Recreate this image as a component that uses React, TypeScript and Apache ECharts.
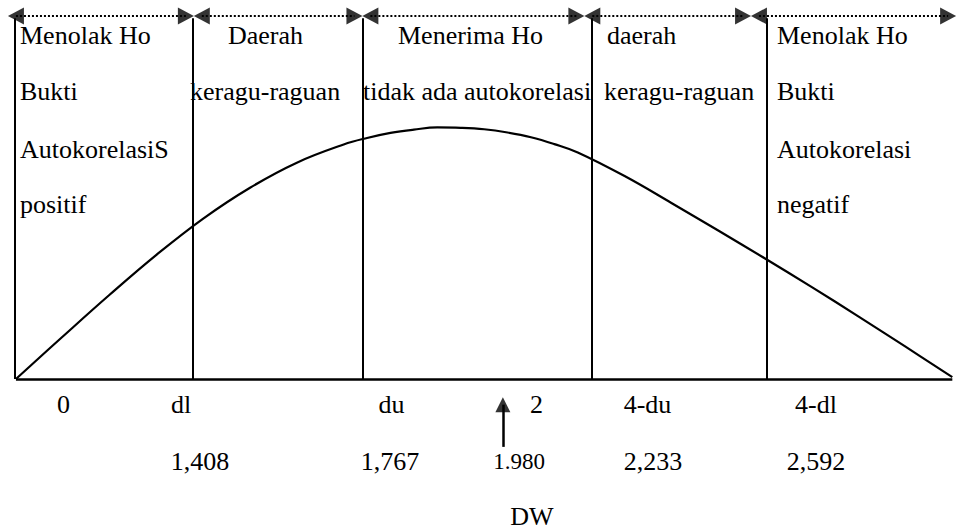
import React, { useEffect, useRef } from 'react';
import * as echarts from 'echarts';

// Schematic Durbin-Watson diagram, horizontal/vertical units are schematic (0..100)
const curveX = [0, 5, 10, 15, 20, 25, 30, 35, 37.5, 40, 42.5, 45, 47.5, 50, 52.5, 55, 57.5, 60, 65, 70, 75, 80, 85, 90, 95, 100];
const curveY = [0, 11.7, 23.2, 34.2, 44.2, 52.7, 59.6, 64.6, 66.4, 67.8, 68.7, 69.3, 69.2, 68.8, 67.9, 66.6, 64.7, 62.4, 55.9, 48.5, 40.9, 33.2, 25.3, 17.2, 8.9, 0.5];
const boundaryX = [-0.15, 18.9, 37.0, 61.5, 80.2];
const boundaryTop = 99.4;
const arrowStops = [-0.85, 19.0, 37.0, 60.7, 78.5, 100.4];
const arrowLevel = 100;
const dwMarkerX = 52.0;
const dwMarkerFrom = -18.7;
const dwMarkerTip = -5.0;

const regionTexts = [
  ['Menolak Ho', 'Bukti', 'AutokorelasiS', 'positif'],
  ['Daerah', 'keragu-raguan'],
  ['Menerima Ho', 'tidak ada autokorelasi'],
  ['daerah', 'keragu-raguan'],
  ['Menolak Ho', 'Bukti', 'Autokorelasi', 'negatif'],
];
const boundaryNames = ['0', 'dl', 'du', '2', '4-du', '4-dl'];
const boundaryValues = ['1,408', '1,767', '1.980', '2,233', '2,592'];
const axisTitle = 'DW';

// layout (pixels)
const regionLeft = [[20, 20, 20, 20], [228, 190], [398, 363], [607, 604], [777, 777, 777, 777]];
const rowY = [35, 91, 149, 204];
const nameCx = [63.5, 181, 391.5, 536.5, 647.5, 816];
const valueCx = [200, 390, 519, 653, 816];
const valueSize = [26, 26, 23, 26, 26];

const FONT = '"Liberation Serif", "Times New Roman", Times, serif';
const UNIT_X = 9.41;
const UNIT_Y = 3.63;
const HEAD_LEN = 16;
const HEAD_W = 17;

export default function App() {
  const ref = useRef<HTMLDivElement>(null);
  useEffect(() => {
    if (!ref.current) return;
    const chart = echarts.init(ref.current, undefined, { renderer: 'svg' });
    const half = HEAD_LEN / 2 / UNIT_X;
    const dotted: any[] = [];
    const heads: any[] = [];
    for (let i = 0; i < arrowStops.length - 1; i++) {
      dotted.push([
        { coord: [arrowStops[i] + half, arrowLevel] },
        { coord: [arrowStops[i + 1] - half, arrowLevel] },
      ]);
      heads.push({ value: [arrowStops[i] + half, arrowLevel], symbolRotate: 90 });
      heads.push({ value: [arrowStops[i + 1] - half, arrowLevel], symbolRotate: -90 });
    }
    const dwHeadY = dwMarkerTip - 15 / 2 / UNIT_Y;
    heads.push({ value: [dwMarkerX, dwHeadY], symbolRotate: 0, symbolSize: [15, 15] });

    const solid: any[] = boundaryX.map((x) => [
      { coord: [x, 0] },
      { coord: [x, boundaryTop] },
    ]);
    solid.push([
      { coord: [0, 0], lineStyle: { width: 2.6 } },
      { coord: [100, 0] },
    ]);
    solid.push([
      { coord: [dwMarkerX, dwMarkerFrom], lineStyle: { width: 2.5 } },
      { coord: [dwMarkerX, dwHeadY] },
    ]);

    const graphic: any[] = [];
    regionTexts.forEach((lines, c) => {
      lines.forEach((t, r) => {
        graphic.push({
          type: 'text',
          silent: true,
          style: { x: regionLeft[c][r], y: rowY[r], text: t, font: `26px ${FONT}`, fill: '#000', align: 'left', verticalAlign: 'middle' },
        });
      });
    });
    boundaryNames.forEach((t, i) => {
      graphic.push({
        type: 'text',
        silent: true,
        style: { x: nameCx[i], y: 404, text: t, font: `26px ${FONT}`, fill: '#000', align: 'center', verticalAlign: 'middle' },
      });
    });
    boundaryValues.forEach((t, i) => {
      graphic.push({
        type: 'text',
        silent: true,
        style: { x: valueCx[i], y: 461, text: t, font: `${valueSize[i]}px ${FONT}`, fill: '#000', align: 'center', verticalAlign: 'middle' },
      });
    });
    graphic.push({
      type: 'text',
      silent: true,
      style: { x: 532, y: 516, text: axisTitle, font: `26px ${FONT}`, fill: '#000', align: 'center', verticalAlign: 'middle' },
    });

    chart.setOption({
      animation: false,
      backgroundColor: '#fff',
      grid: { left: 16 - UNIT_X, top: 16, width: UNIT_X * 101.5, height: UNIT_Y * 141 },
      xAxis: { type: 'value', min: -1, max: 100.5, show: false, splitLine: { show: false } },
      yAxis: { type: 'value', min: -41, max: 100, show: false, splitLine: { show: false } },
      graphic,
      series: [
        {
          type: 'line',
          data: curveX.map((x, i) => [x, curveY[i]]),
          smooth: 0.4,
          showSymbol: false,
          symbol: 'none',
          clip: false,
          lineStyle: { color: '#000', width: 2.2 },
          silent: true,
        },
        {
          type: 'line',
          data: [],
          silent: true,
          clip: false,
          markLine: {
            silent: true,
            animation: false,
            symbol: ['none', 'none'],
            label: { show: false },
            lineStyle: { color: '#000', width: 2, type: 'solid' },
            emphasis: { disabled: true },
            data: solid,
          },
        },
        {
          type: 'line',
          data: [],
          silent: true,
          clip: false,
          markLine: {
            silent: true,
            animation: false,
            symbol: ['none', 'none'],
            label: { show: false },
            lineStyle: { color: '#000', width: 2, type: [2, 2] },
            emphasis: { disabled: true },
            data: dotted,
          },
        },
        {
          type: 'scatter',
          data: heads,
          symbol: 'triangle',
          symbolSize: [HEAD_W, HEAD_LEN],
          clip: false,
          silent: true,
          itemStyle: { color: '#000' },
        },
      ],
    });
    return () => chart.dispose();
  }, []);
  return (
    <div
      ref={ref}
      style={{ position: 'fixed', left: 0, top: 0, width: 957, height: 531, background: '#fff' }}
    />
  );
}
